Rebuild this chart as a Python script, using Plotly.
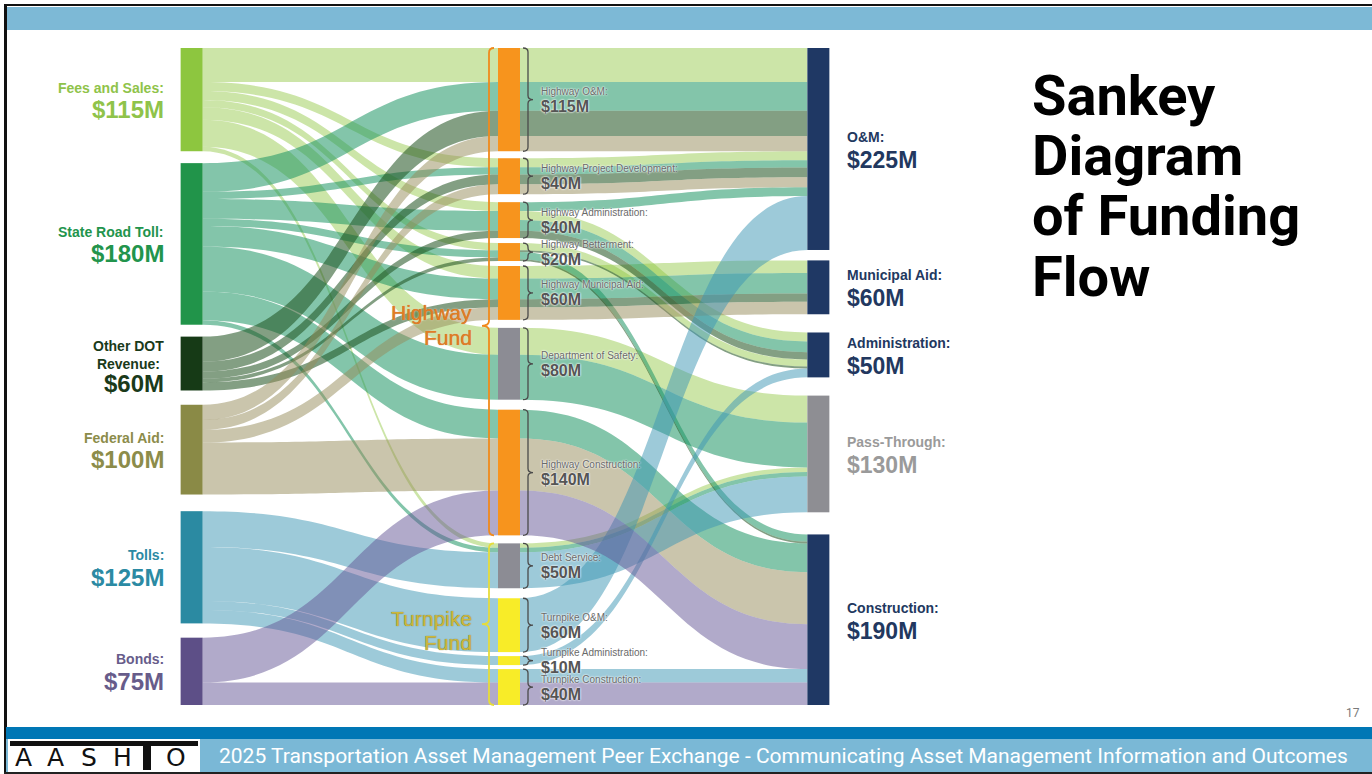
import plotly.graph_objects as go

W, H = 1372, 774

# ---------------- data ($ millions) ----------------
sources = ["Fees and Sales", "State Road Toll", "Other DOT Revenue",
           "Federal Aid", "Tolls", "Bonds"]
programs = ["Highway O&M", "Highway Project Development", "Highway Administration",
            "Highway Betterment", "Highway Municipal Aid", "Department of Safety",
            "Highway Construction", "Debt Service", "Turnpike O&M",
            "Turnpike Administration", "Turnpike Construction"]
uses = ["O&M", "Municipal Aid", "Administration", "Pass-Through", "Construction"]

# each funding path: revenue source -> program -> use
flow_source = ["Fees and Sales"] * 7 + ["State Road Toll"] * 9 + ["Other DOT Revenue"] * 6 \
    + ["Federal Aid"] * 4 + ["Tolls"] * 4 + ["Bonds"] * 2
flow_program = [
    "Highway O&M", "Highway Project Development", "Highway Administration", "Highway Betterment",
    "Highway Municipal Aid", "Department of Safety", "Debt Service",
    "Highway O&M", "Highway Project Development", "Highway Administration", "Highway Administration",
    "Highway Betterment", "Highway Municipal Aid", "Department of Safety", "Highway Construction",
    "Debt Service",
    "Highway O&M", "Highway Project Development", "Highway Administration", "Highway Betterment",
    "Highway Betterment", "Highway Municipal Aid",
    "Highway O&M", "Highway Project Development", "Highway Municipal Aid", "Highway Construction",
    "Debt Service", "Turnpike O&M", "Turnpike Administration", "Turnpike Construction",
    "Highway Construction", "Turnpike Construction"]
flow_use = [
    "O&M", "O&M", "Administration", "Administration", "Municipal Aid", "Pass-Through", "Pass-Through",
    "O&M", "O&M", "O&M", "Administration", "Construction", "Municipal Aid", "Pass-Through",
    "Construction", "Pass-Through",
    "O&M", "O&M", "Administration", "Administration", "Construction", "Municipal Aid",
    "O&M", "O&M", "Municipal Aid", "Construction",
    "Pass-Through", "O&M", "Administration", "Construction",
    "Construction", "Construction"]
flow_value = [38, 10, 10, 8, 14, 30, 5,
              32, 8, 10, 12, 8, 23, 50, 32, 5,
              28, 11, 8, 2, 2, 9,
              17, 11, 14, 58,
              40, 60, 10, 15,
              50, 25]

highway_fund = programs[:7]
turnpike_fund = programs[7:]

# ---------------- styling ----------------
ARIAL = "Liberation Sans, Arial, sans-serif"
src_node_color = ["#8dc63f", "#21944a", "#163a16", "#8a8a46", "#2b8aa2", "#5d4f87"]
src_link_color = ["rgba(141,198,63,0.45)", "rgba(30,150,100,0.55)", "rgba(30,80,30,0.55)",
                  "rgba(150,140,90,0.5)", "rgba(60,150,180,0.5)", "rgba(100,85,150,0.5)"]
src_label_color = ["#8fc34a", "#22944c", "#1a3a1a", "#8c8c4a", "#2b8aa3", "#675c8a"]
prog_color = {"Department of Safety": "#8c8c94", "Debt Service": "#8c8c94"}
HWY_ORANGE, TPK_YELLOW = "#f7941d", "#f8ec28"
use_color = ["#1f3864", "#1f3864", "#1f3864", "#8e8e93", "#1f3864"]
use_label_color = ["#22385f", "#22385f", "#22385f", "#9a9a9a", "#22385f"]

# ---------------- node totals ----------------
def total(names, key_list):
    return [sum(v for k, v in zip(key_list, flow_value) if k == n) for n in names]

src_tot = total(sources, flow_source)
prog_tot = total(programs, flow_program)
use_tot = total(uses, flow_use)

# ---------------- layout geometry (pixels) ----------------
TOP, BOT = 48, 705
PH = BOT - TOP
X_LEFT, X_RIGHT = 191, 819
X_MID = 509
THICK = 22
PAD = 6.9
columns = [src_tot, prog_tot, use_tot]
ky = min((PH - (len(c) - 1) * PAD) / sum(c) for c in columns)


def stack(values, gap_weights):
    free = PH - ky * sum(values)
    gaps = [g * free / sum(gap_weights) for g in gap_weights] + [0]
    y, spans = 0.0, []
    for v, g in zip(values, gaps):
        h = v * ky
        spans.append((TOP + y, TOP + y + h))
        y += h + g
    return spans


src_span = stack(src_tot, [10, 10, 12, 14, 12])
prog_span = stack(prog_tot, [7, 8, 5, 5, 8, 10, 8, 10, 4, 4])
use_span = stack(use_tot, [8, 14, 14, 17])

def cy(span):
    return (span[0] + span[1]) / 2

node_x = [0.001] * 6 + [(X_MID - X_LEFT) / (X_RIGHT - X_LEFT)] * 11 + [0.999] * 5
node_y = [(cy(s) - TOP) / PH for s in src_span + prog_span + use_span]

node_colors = src_node_color + [
    prog_color.get(p, HWY_ORANGE if p in highway_fund else TPK_YELLOW) for p in programs
] + use_color

# ---------------- links ----------------
n_src, n_prog = len(sources), len(programs)
idx_s = {n: i for i, n in enumerate(sources)}
idx_p = {n: n_src + i for i, n in enumerate(programs)}
idx_u = {n: n_src + n_prog + i for i, n in enumerate(uses)}

first, second = {}, {}
for s, p, u, v in zip(flow_source, flow_program, flow_use, flow_value):
    first[(s, p)] = first.get((s, p), 0) + v
    second[(p, u, s)] = second.get((p, u, s), 0) + v

link_s, link_t, link_v, link_c = [], [], [], []
for (s, p), v in first.items():
    link_s.append(idx_s[s]); link_t.append(idx_p[p]); link_v.append(v)
    link_c.append(src_link_color[idx_s[s]])
for (p, u, s), v in second.items():
    link_s.append(idx_p[p]); link_t.append(idx_u[u]); link_v.append(v)
    link_c.append(src_link_color[idx_s[s]])

fig = go.Figure(go.Sankey(
    arrangement="fixed",
    domain=dict(x=[X_LEFT / W, X_RIGHT / W], y=[1 - BOT / H, 1 - TOP / H]),
    node=dict(label=[""] * (n_src + n_prog + len(uses)), x=node_x, y=node_y,
              pad=PAD, thickness=THICK, color=node_colors,
              line=dict(width=0), hoverinfo="none"),
    link=dict(source=link_s, target=link_t, value=link_v, color=link_c,
              hoverinfo="none"),
    hoverinfo="none",
))

# ---------------- helpers ----------------
def px(x):
    return x / W

def py(y):
    return 1 - y / H

annotations, shapes = [], []

def label(x, y, text, size, color, anchor="left", weight="bold", family=ARIAL, shadow=None):
    f = dict(family=family, size=size, color=color, weight=weight)
    if shadow:
        f["shadow"] = shadow
    annotations.append(dict(x=px(x), y=py(y), xref="paper", yref="paper", text=text,
                            showarrow=False, xanchor=anchor, yanchor="middle", font=f))

def money(v):
    return f"${v:g}M"

# source labels (left of nodes)
for i, name in enumerate(sources):
    c = cy(src_span[i])
    if name == "Other DOT Revenue":
        label(166, c - 9, "Other DOT<br>Revenue:", 14, src_label_color[i], anchor="right")
        label(166, c + 20, money(src_tot[i]), 24, src_label_color[i], anchor="right")
    else:
        label(166, c - 12, name + ":", 14, src_label_color[i], anchor="right")
        label(166, c + 10, money(src_tot[i]), 24, src_label_color[i], anchor="right")

# program labels with braces
HALO = "0px 0px 2px white, 0px 0px 2px white"
bx0 = X_MID + THICK / 2 + 3
for i, name in enumerate(programs):
    t, b = prog_span[i]
    c = (t + b) / 2
    label(bx0 + 16, c - 8, name + ":", 10, "#6a6a6a", weight="normal", shadow=HALO)
    label(bx0 + 16, c + 7, money(prog_tot[i]), 16, "#555555", shadow=HALO)
    r = min(4, (b - t) / 4)
    xm, xt = bx0 + 5, bx0 + 10
    pth = (f"M {px(bx0)},{py(t)} Q {px(xm)},{py(t)} {px(xm)},{py(t + r)} "
           f"L {px(xm)},{py(c - r)} Q {px(xm)},{py(c)} {px(xt)},{py(c)} "
           f"Q {px(xm)},{py(c)} {px(xm)},{py(c + r)} L {px(xm)},{py(b - r)} "
           f"Q {px(xm)},{py(b)} {px(bx0)},{py(b)}")
    shapes.append(dict(type="path", path=pth, xref="paper", yref="paper",
                       line=dict(color="#4a4a4a", width=1.3)))

# fund braces (opening toward the left)
def fund_brace(t, b, m, color):
    x0, xm, xt = 494, 489, 482
    r = 5
    pth = (f"M {px(x0)},{py(t)} Q {px(xm)},{py(t)} {px(xm)},{py(t + r)} "
           f"L {px(xm)},{py(m - r)} Q {px(xm)},{py(m)} {px(xt)},{py(m)} "
           f"Q {px(xm)},{py(m)} {px(xm)},{py(m + r)} L {px(xm)},{py(b - r)} "
           f"Q {px(xm)},{py(b)} {px(x0)},{py(b)}")
    shapes.append(dict(type="path", path=pth, xref="paper", yref="paper",
                       line=dict(color=color, width=1.8)))

hw_t, hw_b = prog_span[0][0], prog_span[len(highway_fund) - 1][1]
tp_t, tp_b = prog_span[len(highway_fund)][0], prog_span[-1][1]
hw_m = hw_t + 0.57 * (hw_b - hw_t)
tp_m = (tp_t + tp_b) / 2
fund_brace(hw_t, hw_b, hw_m, "#f08a1c")
fund_brace(tp_t, tp_b, tp_m, "#e6dc3a")
label(474, hw_m - 13, "Highway", 21, "#e27d24", anchor="right", weight="normal",
      shadow="0px 0px 1px #b05a10, 0px 0px 2px white")
label(474, hw_m + 12, "Fund", 21, "#e27d24", anchor="right", weight="normal",
      shadow="0px 0px 1px #b05a10, 0px 0px 2px white")
label(474, tp_m - 6, "Turnpike", 21, "#cdb83a", anchor="right", weight="normal",
      shadow="0px 0px 1px #6d6420")
label(474, tp_m + 18, "Fund", 21, "#cdb83a", anchor="right", weight="normal",
      shadow="0px 0px 1px #6d6420")

# use labels (right of nodes)
for i, name in enumerate(uses):
    c = cy(use_span[i])
    label(845, c - 12, name + ":", 14, use_label_color[i])
    label(845, c + 11, money(use_tot[i]), 23, use_label_color[i])

# ---------------- slide furniture ----------------
def rect(x0, y0, x1, y1, color, layer="below"):
    shapes.append(dict(type="rect", xref="paper", yref="paper", x0=px(x0), x1=px(x1),
                       y0=py(y1), y1=py(y0), fillcolor=color, line=dict(width=0), layer=layer))

rect(6, 7, W, 30, "#7db9d6")
rect(4, 4, W, 6, "#111111")
rect(4, 4, 7, 774, "#111111")
rect(6, 727, W, 739, "#0077b5")
rect(6, 739, W, 772, "#7ab8d6")
rect(4, 772, W, 774, "#222222")
rect(8, 739, 200, 772, "#ffffff")
rect(10, 741, 198, 746, "#111111")
rect(143, 741, 151, 770, "#111111")

for ch, x in zip("AASH", [23, 56, 89, 122]):
    label(x, 757, ch, 25, "#111111", anchor="center", weight="normal", family="DejaVu Sans")
label(176, 757, "O", 25, "#111111", anchor="center", weight="normal", family="DejaVu Sans")

label(217, 756, "2025 Transportation Asset Management Peer Exchange - Communicating Asset "
      "Management Information and Outcomes", 21, "#ffffff", weight="normal", family="Roboto")
label(1362, 713, "17", 12, "#7a7a7a", anchor="right", weight="normal", family="Roboto")

for txt, y in zip(["Sankey", "Diagram", "of Funding", "Flow"], [96, 156, 216, 277]):
    label(1030, y, txt, 56, "#000000", family="Roboto")

fig.update_layout(
    width=W, height=H, margin=dict(l=0, r=0, t=0, b=0),
    paper_bgcolor="white", plot_bgcolor="white",
    annotations=annotations, shapes=shapes, showlegend=False,
)

fig.write_html("out.html")
